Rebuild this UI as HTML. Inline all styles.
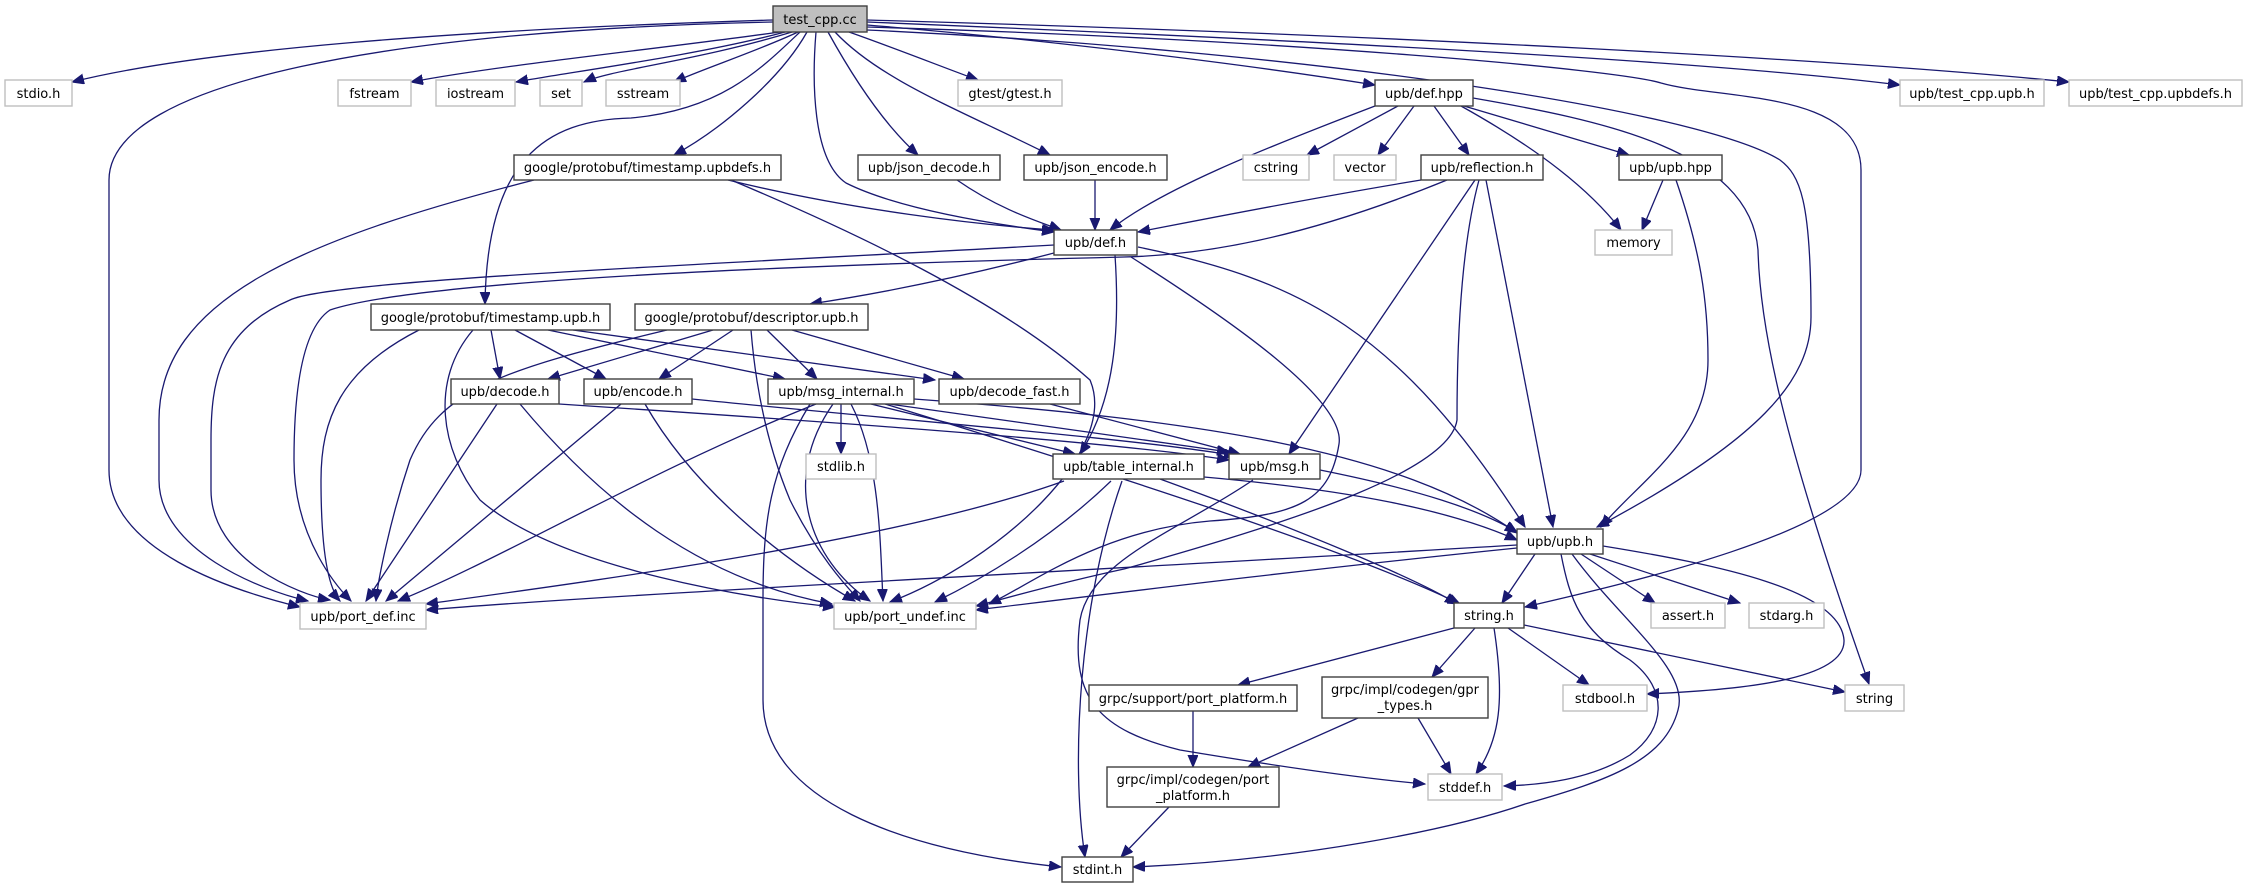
<!DOCTYPE html>
<html><head><meta charset="utf-8"><style>
html,body{margin:0;padding:0;background:#fff;}
svg{display:block;}
text{font-family:"DejaVu Sans","Liberation Sans",sans-serif;font-size:13px;fill:#000;text-anchor:middle;}
.b{fill:#fff;stroke:#404040;stroke-width:1.4;}
.g{fill:#fff;stroke:#bfbfbf;stroke-width:1.4;}
.e{fill:none;stroke:#191970;stroke-width:1.3;marker-end:url(#a);}
</style></head><body>
<svg width="2248" height="888" viewBox="0 0 2248 888" xmlns="http://www.w3.org/2000/svg">
<defs><marker id="a" markerUnits="userSpaceOnUse" markerWidth="14" markerHeight="12" refX="12" refY="5" orient="auto"><path d="M0,0 L12,5 L0,10 z" fill="#191970" stroke="#191970"/></marker></defs>

<path class="e" d="M773,20 C450,30 200,50 72,82"/>
<path class="e" d="M773,22 C400,30 109,80 109,180 V470 C109,550 230,590 300,607"/>
<path class="e" d="M780,32 C650,50 500,65 411,82"/>
<path class="e" d="M785,32 C700,55 570,72 516,82"/>
<path class="e" d="M792,32 C700,60 610,70 584,82"/>
<path class="e" d="M798,32 C760,50 700,70 674,82"/>
<path class="e" d="M800,32 C760,70 720,110 631,118 C545,120 487,160 485,304"/>
<path class="e" d="M807,32 C780,80 720,130 674,155"/>
<path class="e" d="M816,32 C812,80 812,160 846,183 C900,210 1000,225 1054,232"/>
<path class="e" d="M828,32 C860,90 890,130 918,155"/>
<path class="e" d="M835,32 C880,80 960,110 1050,155"/>
<path class="e" d="M849,32 C900,50 950,70 978,80"/>
<path class="e" d="M867,25 C1050,40 1250,65 1375,85"/>
<path class="e" d="M867,22 C1300,40 1700,60 1900,85"/>
<path class="e" d="M867,20 C1400,35 1850,60 2069,82"/>
<path class="e" d="M867,27 C1300,40 1620,70 1661,83 C1720,100 1861,90 1861,170 V470 C1861,530 1620,585 1525,607"/>
<path class="e" d="M867,30 C1300,50 1700,110 1780,160 C1800,175 1811,200 1811,317 C1811,380 1760,440 1597,527"/>

<path class="e" d="M534,180 C300,240 159,300 159,420 V480 C159,550 260,590 308,601"/>
<path class="e" d="M728,180 C850,210 980,225 1054,230"/>
<path class="e" d="M731,180 C850,230 1000,300 1090,380 C1120,450 1000,560 890,602"/>
<path class="e" d="M957,180 C1000,210 1040,222 1061,230"/>
<path class="e" d="M1095,180 V230"/>

<path class="e" d="M1375,106 C1260,150 1160,190 1110,230"/>
<path class="e" d="M1398,106 L1307,155"/>
<path class="e" d="M1414,106 L1378,155"/>
<path class="e" d="M1434,106 L1469,155"/>
<path class="e" d="M1461,106 C1540,150 1590,190 1621,230"/>
<path class="e" d="M1464,106 L1629,155"/>
<path class="e" d="M1473,98 C1600,120 1750,150 1758,250 C1760,330 1783,440 1869,684"/>

<path class="e" d="M1421,180 C1300,200 1200,220 1138,232"/>
<path class="e" d="M1447,180 C1300,240 1200,255 1124,257 C800,265 420,280 330,310 C300,330 294,400 294,460 C294,540 340,590 351,601"/>
<path class="e" d="M1475,180 L1289,454"/>
<path class="e" d="M1479,180 C1460,250 1457,350 1457,420 C1450,470 1300,520 1124,569 C1050,585 1000,600 976,606"/>
<path class="e" d="M1486,180 L1553,527"/>

<path class="e" d="M1663,180 L1642,230"/>
<path class="e" d="M1676,180 C1700,250 1708,300 1708,360 C1708,440 1640,480 1601,527"/>

<path class="e" d="M1054,253 C950,280 870,295 810,304"/>
<path class="e" d="M1054,245 C700,265 330,280 290,300 C220,330 211,380 211,440 V490 C211,560 300,595 330,600"/>
<path class="e" d="M1115,255 C1120,330 1115,400 1080,454"/>
<path class="e" d="M1131,257 C1230,320 1346,400 1339,444 C1330,500 1300,515 1210,521 C1100,530 1030,585 989,604"/>
<path class="e" d="M1138,247 C1300,280 1400,330 1525,527"/>

<path class="e" d="M419,330 C340,370 321,420 321,480 C321,560 330,590 340,601"/>
<path class="e" d="M473,330 C430,380 440,450 480,500 C560,570 760,600 835,607"/>
<path class="e" d="M491,330 L500,379"/>
<path class="e" d="M515,330 L606,379"/>
<path class="e" d="M548,330 L785,379"/>
<path class="e" d="M573,330 L935,380"/>

<path class="e" d="M667,330 C500,370 440,390 410,460 C390,520 378,580 376,601"/>
<path class="e" d="M713,330 L548,379"/>
<path class="e" d="M733,330 L659,379"/>
<path class="e" d="M767,330 L817,379"/>
<path class="e" d="M792,330 L964,379"/>
<path class="e" d="M751,330 C755,380 765,440 790,500 C820,560 850,590 860,601"/>

<path class="e" d="M497,404 L366,601"/>
<path class="e" d="M520,404 C600,500 700,580 832,604"/>
<path class="e" d="M559,404 C800,420 1100,440 1229,460"/>
<path class="e" d="M621,404 L386,601"/>
<path class="e" d="M645,404 C700,500 800,570 855,601"/>
<path class="e" d="M692,399 C900,420 1150,440 1236,456"/>
<path class="e" d="M841,404 V454"/>
<path class="e" d="M816,404 C650,470 500,560 398,601"/>
<path class="e" d="M810,404 C770,470 763,520 763,600 V700 C763,800 900,850 1061,867"/>
<path class="e" d="M833,404 C780,480 810,560 870,601"/>
<path class="e" d="M851,404 C880,460 880,540 883,601"/>
<path class="e" d="M871,404 L1075,454"/>
<path class="e" d="M889,404 C1000,420 1150,440 1229,452"/>
<path class="e" d="M914,399 C1200,420 1400,450 1517,533"/>
<path class="e" d="M885,404 C1100,470 1350,550 1460,604"/>
<path class="e" d="M1050,404 L1240,454"/>
<path class="e" d="M1064,481 C900,540 600,580 426,604"/>
<path class="e" d="M1111,481 C1050,540 980,580 935,602"/>
<path class="e" d="M1122,481 C1080,600 1070,760 1085,857"/>
<path class="e" d="M1204,477 C1350,490 1450,510 1517,540"/>
<path class="e" d="M1160,479 C1300,530 1420,580 1457,604"/>
<path class="e" d="M1320,470 C1420,490 1480,510 1517,532"/>
<path class="e" d="M1253,480 C1180,530 1090,560 1080,620 C1070,700 1100,730 1180,750 C1300,770 1380,780 1425,784"/>

<path class="e" d="M1517,545 C1100,570 600,595 426,610"/>
<path class="e" d="M1517,548 C1300,570 1100,595 976,610"/>
<path class="e" d="M1535,554 L1502,603"/>
<path class="e" d="M1561,554 C1570,600 1580,630 1630,660 C1670,690 1665,730 1630,755 C1590,780 1540,785 1504,786"/>
<path class="e" d="M1572,554 C1620,620 1690,670 1678,710 C1665,760 1610,780 1525,804 C1450,830 1300,860 1133,867"/>
<path class="e" d="M1581,554 L1655,603"/>
<path class="e" d="M1590,554 L1740,603"/>
<path class="e" d="M1603,546 C1720,565 1840,590 1844,640 C1846,680 1740,690 1647,694"/>

<path class="e" d="M1454,628 L1238,685"/>
<path class="e" d="M1475,628 L1432,677"/>
<path class="e" d="M1494,628 C1505,700 1500,740 1476,774"/>
<path class="e" d="M1508,628 L1589,685"/>
<path class="e" d="M1524,625 L1845,692"/>
<path class="e" d="M1193,711 V767"/>
<path class="e" d="M1358,718 L1248,767"/>
<path class="e" d="M1418,718 L1451,774"/>
<path class="e" d="M1169,807 L1121,857"/>

<rect x="773" y="6" width="94" height="26" fill="#bfbfbf" stroke="#404040" stroke-width="1.4"/><text x="820" y="24">test_cpp.cc</text>
<rect class="g" x="5" y="80" width="67" height="26"/><text x="38.5" y="98">stdio.h</text>
<rect class="g" x="338" y="80" width="73" height="26"/><text x="374.5" y="98">fstream</text>
<rect class="g" x="436" y="80" width="79" height="26"/><text x="475.5" y="98">iostream</text>
<rect class="g" x="540" y="80" width="42" height="26"/><text x="561" y="98">set</text>
<rect class="g" x="606" y="80" width="74" height="26"/><text x="643" y="98">sstream</text>
<rect class="g" x="958" y="80" width="104" height="26"/><text x="1010" y="98">gtest/gtest.h</text>
<rect class="b" x="1375" y="80" width="98" height="26"/><text x="1424" y="98">upb/def.hpp</text>
<rect class="g" x="1900" y="80" width="144" height="26"/><text x="1972" y="98">upb/test_cpp.upb.h</text>
<rect class="g" x="2069" y="80" width="173" height="26"/><text x="2155.5" y="98">upb/test_cpp.upbdefs.h</text>

<rect class="b" x="514" y="155" width="267" height="25"/><text x="647.5" y="172">google/protobuf/timestamp.upbdefs.h</text>
<rect class="b" x="858" y="155" width="142" height="25"/><text x="929" y="172">upb/json_decode.h</text>
<rect class="b" x="1024" y="155" width="143" height="25"/><text x="1095.5" y="172">upb/json_encode.h</text>
<rect class="g" x="1243" y="155" width="66" height="25"/><text x="1276" y="172">cstring</text>
<rect class="g" x="1334" y="155" width="62" height="25"/><text x="1365" y="172">vector</text>
<rect class="b" x="1421" y="155" width="122" height="25"/><text x="1482" y="172">upb/reflection.h</text>
<rect class="b" x="1619" y="155" width="103" height="25"/><text x="1670.5" y="172">upb/upb.hpp</text>

<rect class="b" x="1054" y="230" width="83" height="25"/><text x="1095.5" y="247">upb/def.h</text>
<rect class="g" x="1595" y="230" width="77" height="25"/><text x="1633.5" y="247">memory</text>

<rect class="b" x="371" y="304" width="239" height="26"/><text x="490.5" y="322">google/protobuf/timestamp.upb.h</text>
<rect class="b" x="635" y="304" width="233" height="26"/><text x="751.5" y="322">google/protobuf/descriptor.upb.h</text>

<rect class="b" x="451" y="379" width="108" height="25"/><text x="505" y="396">upb/decode.h</text>
<rect class="b" x="584" y="379" width="108" height="25"/><text x="638" y="396">upb/encode.h</text>
<rect class="b" x="768" y="379" width="146" height="25"/><text x="841" y="396">upb/msg_internal.h</text>
<rect class="b" x="939" y="379" width="141" height="25"/><text x="1009.5" y="396">upb/decode_fast.h</text>

<rect class="g" x="806" y="454" width="70" height="25"/><text x="841" y="471">stdlib.h</text>
<rect class="b" x="1053" y="454" width="151" height="25"/><text x="1128.5" y="471">upb/table_internal.h</text>
<rect class="b" x="1229" y="454" width="91" height="25"/><text x="1274.5" y="471">upb/msg.h</text>

<rect class="b" x="1517" y="529" width="86" height="25"/><text x="1560" y="546">upb/upb.h</text>

<rect class="g" x="300" y="603" width="126" height="26"/><text x="363" y="621">upb/port_def.inc</text>
<rect class="g" x="834" y="603" width="142" height="26"/><text x="905" y="621">upb/port_undef.inc</text>
<rect class="b" x="1454" y="603" width="70" height="25"/><text x="1489" y="620">string.h</text>
<rect class="g" x="1651" y="603" width="74" height="25"/><text x="1688" y="620">assert.h</text>
<rect class="g" x="1749" y="603" width="75" height="25"/><text x="1786.5" y="620">stdarg.h</text>

<rect class="b" x="1089" y="685" width="208" height="26"/><text x="1193" y="703">grpc/support/port_platform.h</text>
<rect class="b" x="1322" y="677" width="166" height="41"/><text x="1405" y="694">grpc/impl/codegen/gpr</text><text x="1405" y="710">_types.h</text>
<rect class="g" x="1563" y="685" width="84" height="26"/><text x="1605" y="703">stdbool.h</text>
<rect class="g" x="1845" y="685" width="59" height="26"/><text x="1874.5" y="703">string</text>

<rect class="b" x="1107" y="767" width="172" height="40"/><text x="1193" y="784">grpc/impl/codegen/port</text><text x="1193" y="800">_platform.h</text>
<rect class="g" x="1428" y="774" width="74" height="26"/><text x="1465" y="792">stddef.h</text>

<rect class="b" x="1062" y="857" width="71" height="25"/><text x="1097.5" y="874">stdint.h</text>
</svg>
</body></html>
